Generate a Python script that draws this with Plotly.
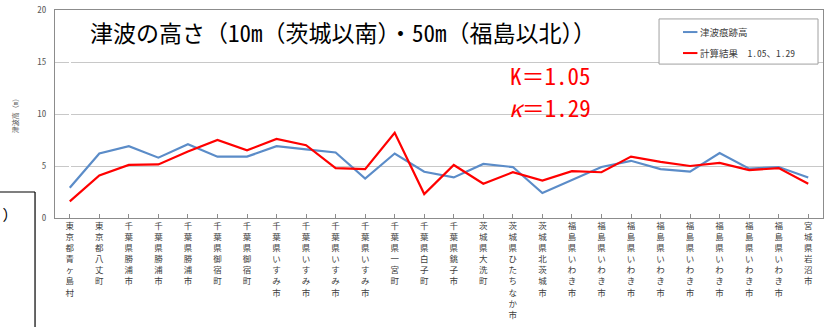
import plotly.graph_objects as go

# 地点名（縦書き表示）
locations = [
    '東京都青ヶ島村', '東京都八丈町',
    '千葉県勝浦市', '千葉県勝浦市', '千葉県勝浦市',
    '千葉県御宿町', '千葉県御宿町',
    '千葉県いすみ市', '千葉県いすみ市', '千葉県いすみ市', '千葉県いすみ市',
    '千葉県一宮町', '千葉県白子町', '千葉県銚子市',
    '茨城県大洗町', '茨城県ひたちなか市', '茨城県北茨城市',
    '福島県いわき市', '福島県いわき市', '福島県いわき市', '福島県いわき市',
    '福島県いわき市', '福島県いわき市', '福島県いわき市', '福島県いわき市',
    '宮城県岩沼市',
]

# 津波痕跡高 (m)
trace_heights = [2.9, 6.2, 6.9, 5.8, 7.1, 5.9, 5.9, 6.9, 6.6, 6.3, 3.8, 6.2, 4.45,
                 3.9, 5.2, 4.9, 2.4, 3.65, 4.9, 5.5, 4.7, 4.45, 6.25, 4.75, 4.9, 3.9]

# 計算結果 (K=1.05, κ=1.29)
calc_heights = [1.6, 4.1, 5.1, 5.15, 6.4, 7.5, 6.5, 7.6, 7.0, 4.8, 4.7, 8.2, 2.3,
                5.1, 3.3, 4.4, 3.6, 4.5, 4.4, 5.9, 5.4, 5.0, 5.3, 4.6, 4.8, 3.3]

y_ticks = [0, 5, 10, 15, 20]

series_names = ['津波痕跡高', '計算結果　1.05、1.29']
series_colors = ['#5B8CC8', '#FF0000']

JP = 'Noto Sans Mono CJK JP, Noto Sans CJK JP'

x_idx = list(range(len(locations)))
tick_text = ['<br>'.join(list(name)) for name in locations]

fig = go.Figure()
for ys, name, col in zip([trace_heights, calc_heights], series_names, series_colors):
    fig.add_trace(go.Scatter(x=x_idx, y=ys, mode='lines', name=name,
                             line=dict(color=col, width=2.2)))

fig.update_layout(
    width=833, height=327,
    margin=dict(l=55, r=10, t=10, b=109),
    paper_bgcolor='white', plot_bgcolor='white',
    font=dict(family=JP, color='#404040'),
    showlegend=False,
)

fig.update_xaxes(
    range=[-0.5, len(locations) - 0.5], automargin=False,
    tickmode='array', tickvals=x_idx, ticktext=tick_text,
    tickangle=0, tickfont=dict(size=8.5, family=JP, color='#404040'),
    showgrid=False, showline=True, linecolor='#8C8C8C', linewidth=1, mirror=True,
    ticks='inside', ticklen=4, tickcolor='#8C8C8C', tickson='boundaries',
)
fig.update_yaxes(
    range=[0, 20], tickvals=y_ticks, automargin=False,
    tickfont=dict(size=9, family=JP, color='#595959'),
    showgrid=True, gridcolor='#C8C8C8', gridwidth=1,
    showline=True, linecolor='#8C8C8C', linewidth=1, mirror=True,
    zeroline=False, ticks='', ticklabelstandoff=6,
    title=dict(text='津波高（m）', font=dict(size=7, family=JP, color='#595959'), standoff=17),
)

# 凡例（枠・線・文字）
fig.add_shape(type='rect', xref='paper', yref='paper', x0=0.7865, x1=0.9935, y0=0.740, y1=0.957,
              line=dict(color='#A0A0A0', width=1), fillcolor='white')
for yy, name, col in zip([0.894, 0.793], series_names, series_colors):
    fig.add_shape(type='line', xref='paper', yref='paper', x0=0.8177, x1=0.8365, y0=yy, y1=yy,
                  line=dict(color=col, width=2))
    fig.add_annotation(xref='paper', yref='paper', x=0.837, y=yy, xanchor='left', yanchor='middle',
                       text=name, showarrow=False, font=dict(size=9.5, family=JP, color='#404040'))

# タイトル
fig.add_annotation(xref='paper', yref='paper', x=0.043, y=0.895, xanchor='left', yanchor='middle',
                   text='津波の高さ（10m（茨城以南）・50m（福島以北））', showarrow=False,
                   font=dict(size=23, family=JP, color='#000000'))

# 係数
fig.add_annotation(xref='paper', yref='paper', x=0.701, y=0.6875, xanchor='right', yanchor='middle',
                   text='K＝1.05', showarrow=False, font=dict(size=23, family=JP, color='#FF0000'))
fig.add_annotation(xref='paper', yref='paper', x=0.701, y=0.534, xanchor='right', yanchor='middle',
                   text='<i>κ</i>＝1.29', showarrow=False, font=dict(size=23, family=JP, color='#FF0000'))

# 左下に切り取られた別図の枠
fig.add_shape(type='line', xref='paper', yref='paper', x0=-0.08, x1=-0.026, y0=0.125, y1=0.125,
              line=dict(color='#000000', width=1.2))
fig.add_shape(type='line', xref='paper', yref='paper', x0=-0.026, x1=-0.026, y0=0.125, y1=-0.53,
              line=dict(color='#000000', width=1.2))
fig.add_annotation(xref='paper', yref='paper', x=-0.065, y=0.024, xanchor='center', yanchor='middle',
                   text=')', showarrow=False, font=dict(size=14, family=JP, color='#000000'))

fig.write_html("out.html", config={'displayModeBar': False},
               post_script="document.body.style.margin='0';")
